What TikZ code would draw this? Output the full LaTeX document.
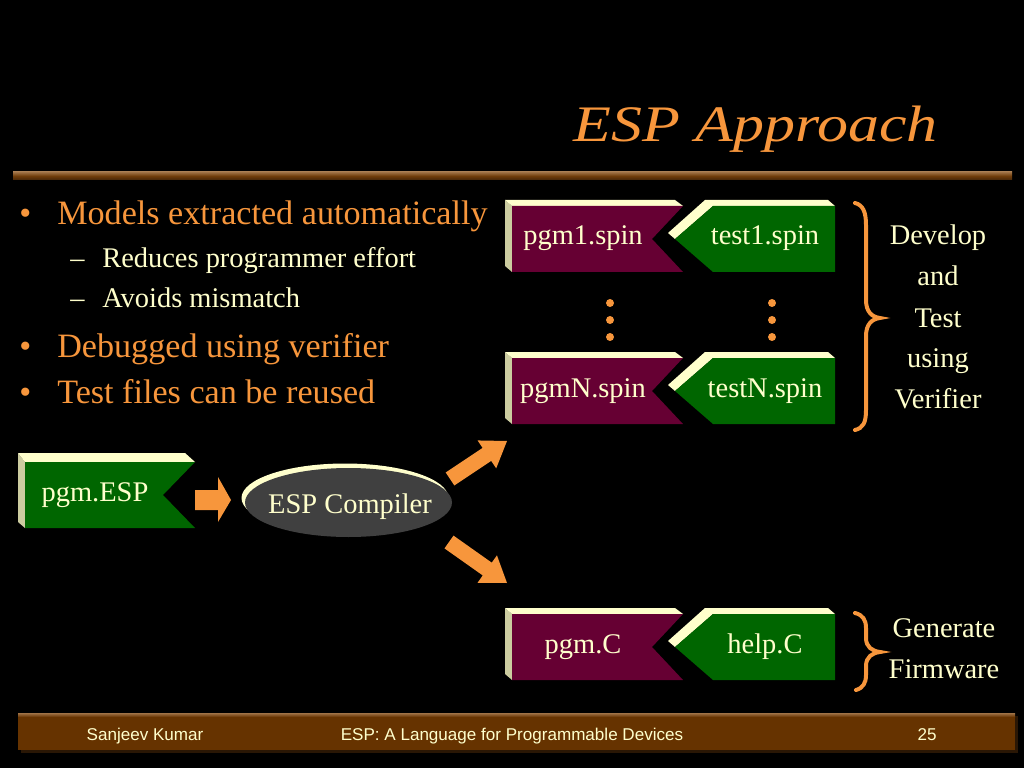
\documentclass[tikz,border=0pt]{standalone}
\usepackage{fontspec}
\setmainfont{Liberation Serif}
\newfontfamily\footfont{Liberation Sans}
\newfontfamily\titlefont[FakeStretch=1.21]{Liberation Serif}
\usetikzlibrary{calc}
\definecolor{orng}{RGB}{247,150,60}
\definecolor{cream}{RGB}{255,255,204}
\definecolor{creamdk}{RGB}{204,204,160}
\definecolor{maroonbox}{RGB}{102,0,51}
\definecolor{dgreen}{RGB}{0,102,0}
\definecolor{ellgray}{RGB}{64,64,64}
\definecolor{barbrown}{RGB}{102,51,0}
\definecolor{barlight}{RGB}{160,115,70}
\definecolor{bardark}{RGB}{70,38,8}

\newcommand\pairboxes[5]{%
 \begin{scope}[shift={(0,#1)}]
  \fill[creamdk] (505,200) -- (512,206) -- (512,272) -- (505,266) -- cycle;
  \fill[cream] (505,200) -- (675,200) -- (683,206) -- (512,206) -- cycle;
  \fill[maroonbox] (512,206) -- (683,206) -- (652,239) -- (683,272) -- (512,272) -- cycle;
  \fill[cream] (668,233) -- (705,200) -- (828,200) -- (835,206) -- (713,206) -- (675,239) -- cycle;
  \fill[dgreen] (675,239) -- (713,206) -- (835,206) -- (835,272) -- (713,272) -- cycle;
  \node[boxtxt] (#2) at (583,245) {#3};
  \node[boxtxt] (#4) at (765,245) {#5};
 \end{scope}}

\newcommand\blockarrow[2]{%
 \path ($(#2)!17pt!(#1)$) coordinate (hb);
 \fill[orng] ($(#1)!5.5pt!90:(#2)$) -- ($(hb)!5.5pt!90:(#2)$) -- ($(hb)!11.8pt!90:(#2)$) -- (#2)
   -- ($(hb)!11.8pt!-90:(#2)$) -- ($(hb)!5.5pt!-90:(#2)$) -- ($(#1)!5.5pt!-90:(#2)$) -- cycle;}

\begin{document}
\begin{tikzpicture}[x=0.703125pt,y=-0.703125pt,
  ttl/.style={text=orng, font=\titlefont\fontsize{36}{42}\selectfont\itshape, anchor=base west, inner sep=0},
  lvl1/.style={text=orng, font=\fontsize{24}{28}\selectfont, anchor=base west, inner sep=0},
  lvl2/.style={text=cream, font=\fontsize{20}{24}\selectfont, anchor=base west, inner sep=0},
  boxtxt/.style={text=cream, font=\fontsize{20}{24}\selectfont, anchor=base, inner sep=0},
  sidetxt/.style={text=cream, font=\fontsize{20}{24}\selectfont, anchor=base, inner sep=0},
  foot/.style={text=cream, font=\footfont\fontsize{12}{14}\selectfont, anchor=base, inner sep=0},
  brace/.style={draw=orng, line width=2.8pt, line cap=round}]
\useasboundingbox (0,0) rectangle (1024,768);
\fill[black] (0,0) rectangle (1024,768);

% title
\node[ttl] (title) at (573,142) {ESP Approach};
\shade[top color=barlight, bottom color=bardark, middle color=barbrown!85!barlight] (13,172) rectangle (1012,180);

% bullets
\node[lvl1] (b1d) at (19,225) {\textbullet};
\node[lvl1] (b1) at (57,225) {Models extracted automatically};
\node[lvl2] (s1d) at (70,268) {--};
\node[lvl2] (s1) at (102,268) {Reduces programmer effort};
\node[lvl2] (s2d) at (70,308) {--};
\node[lvl2] (s2) at (102,308) {Avoids mismatch};
\node[lvl1] (b2d) at (19,357) {\textbullet};
\node[lvl1] (b2) at (57,357) {Debugged using verifier};
\node[lvl1] (b3d) at (19,403) {\textbullet};
\node[lvl1] (b3) at (57,403) {Test files can be reused};

% box pairs
\pairboxes{0}{pgmone}{pgm1.spin}{testone}{test1.spin}
\pairboxes{152}{pgmN}{pgmN.spin}{testN}{testN.spin}
\pairboxes{408}{pgmC}{pgm.C}{helpC}{help.C}

% dots
\foreach \yy in {303,320,337} {
  \fill[orng] (610,\yy) circle[radius=2.8pt];
  \fill[orng] (772,\yy) circle[radius=2.8pt];
}

% pgm.ESP box
\fill[creamdk] (18,453) -- (25,462) -- (25,528) -- (18,522) -- cycle;
\fill[cream] (18,453) -- (185,453) -- (195,462) -- (25,462) -- cycle;
\fill[dgreen] (25,462) -- (195,462) -- (163,495) -- (195,528) -- (25,528) -- cycle;
\node[boxtxt] (pgmesp) at (95,501) {pgm.ESP};

% right arrow
\fill[orng] (195,490) -- (218,490) -- (218,477) -- (231,500) -- (218,522) -- (218,510) -- (195,510) -- cycle;

% compiler ellipse
\fill[cream] (345,498) ellipse [x radius=103.5, y radius=34.5];
\fill[ellgray] (348.5,502.5) ellipse [x radius=103.5, y radius=34.5];
\node[boxtxt] (comp) at (350,513) {ESP Compiler};

% diagonal arrows
\coordinate (a1s) at (450,479);
\coordinate (a1e) at (507,441);
\coordinate (a2s) at (449,542);
\coordinate (a2e) at (507,583);
\blockarrow{a1s}{a1e}
\blockarrow{a2s}{a2e}

% braces
\draw[brace] (855,203) .. controls (863,205) and (866,212) .. (866,225) -- (866,300)
  .. controls (866,312) and (872,317) .. (880,318)
  .. controls (872,319) and (866,324) .. (866,336) -- (866,410)
  .. controls (866,423) and (863,428) .. (855,430);
\draw[brace] (855,613) .. controls (863,615) and (866,620) .. (866,628) -- (866,638)
  .. controls (866,647) and (872,651) .. (880,652)
  .. controls (872,653) and (866,657) .. (866,666) -- (866,675)
  .. controls (866,683) and (863,688) .. (856,690);

% side texts
\node[sidetxt] (t1) at (938,245) {Develop};
\node[sidetxt] (t2) at (938,286) {and};
\node[sidetxt] (t3) at (938,327) {Test};
\node[sidetxt] (t4) at (938,367) {using};
\node[sidetxt] (t5) at (938,408) {Verifier};
\node[sidetxt] (g1) at (944,637) {Generate};
\node[sidetxt] (g2) at (944,678) {Firmware};

% footer
\fill[bardark!60!black] (21,716) rectangle (1018,753);
\fill[barbrown] (18,713) rectangle (1015,750);
\shade[top color=barlight, bottom color=barbrown] (18,713) rectangle (1015,717);
\node[foot] (f1) at (145,740) {Sanjeev Kumar};
\node[foot] (f2) at (512,740) {ESP: A Language for Programmable Devices};
\node[foot] (f3) at (927,740) {25};
\end{tikzpicture}
\end{document}
